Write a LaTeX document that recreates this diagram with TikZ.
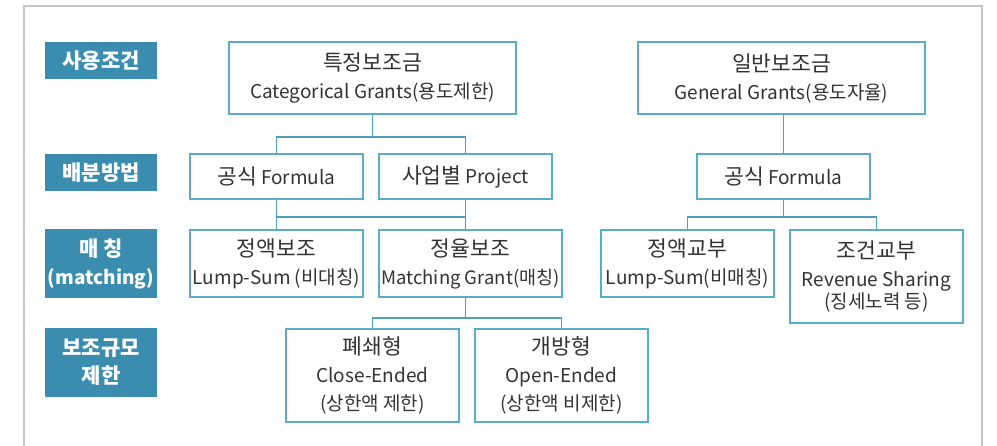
\documentclass[tikz,border=0pt]{standalone}
\usepackage{fontspec}
\setmainfont{Noto Sans CJK KR}
\definecolor{labfill}{HTML}{3B8DAF}
\definecolor{boxline}{HTML}{5AADC9}
\definecolor{connline}{HTML}{4E9FBE}
\definecolor{framegray}{HTML}{C6C6C8}
\definecolor{txt}{HTML}{333333}
\newcommand\bigk[1]{{\fontsize{21.5}{28}\selectfont #1}}
\tikzset{
  lab/.style={fill=labfill, text=white, font=\bfseries\fontsize{21}{28}\selectfont, align=center, inner sep=0pt, minimum width=112pt},
  bx/.style={draw=boxline, line width=1.6pt, fill=white, text=txt, font=\fontsize{19}{28}\selectfont, align=center, inner sep=0pt},
  conn/.style={draw=connline, line width=1.3pt},
  frame/.style={draw=framegray, line width=2.2pt}
}
\begin{document}
\begin{tikzpicture}[x=1pt,y=-1pt]
\useasboundingbox (0,0) rectangle (997,446);
\fill[white] (0,0) rectangle (997,446);
\draw[frame] (24,470) -- (24,6) -- (982,6) -- (982,470);

% row labels
\node[lab, minimum height=37pt] (r1) at (101,60.5) {사용조건};
\node[lab, minimum height=37pt] (r2) at (101,172.5) {배분방법};
\node[lab, minimum height=69pt] (r3) at (101,263.5) {매 칭\\{\fontsize{19}{28}\selectfont (matching)}};
\node[lab, minimum height=69pt] (r4) at (101,362.5) {보조규모\\제한};

% boxes
\node[bx, minimum width=287pt, minimum height=72pt] (tj) at (372.5,78) {\bigk{특정보조금}\\Categorical Grants(용도제한)};
\node[bx, minimum width=287pt, minimum height=72pt] (gg) at (781.5,78) {\bigk{일반보조금}\\General Grants(용도자율)};
\node[bx, minimum width=173pt, minimum height=45pt] (f1) at (276.5,176.5) {\bigk{공식} Formula};
\node[bx, minimum width=173pt, minimum height=45pt] (pj) at (465.5,176.5) {\bigk{사업별} Project};
\node[bx, minimum width=173pt, minimum height=45pt] (f2) at (783.5,176.5) {\bigk{공식} Formula};
\node[bx, minimum width=173pt, minimum height=67pt] (l1) at (276.5,263.5) {\bigk{정액보조}\\Lump-Sum (비대칭)};
\node[bx, minimum width=183pt, minimum height=67pt] (m1) at (470.5,263.5) {\bigk{정율보조}\\{\fontsize{18.5}{28}\selectfont Matching Grant(매칭)}};
\node[bx, minimum width=173pt, minimum height=67pt] (l2) at (687.5,263.5) {\bigk{정액교부}\\Lump-Sum(비매칭)};
\node[bx, minimum width=173pt, minimum height=93pt] (rs) at (876.5,276.5) {\bigk{조건교부}\\Revenue Sharing\\[-6pt](징세노력 등)};
\node[bx, minimum width=173pt, minimum height=93pt] (cl) at (372.5,375.5) {\bigk{폐쇄형}\\Close-Ended\\(상한액 제한)};
\node[bx, minimum width=173pt, minimum height=93pt] (op) at (561.5,375.5) {\bigk{개방형}\\Open-Ended\\(상한액 비제한)};

% connectors
\draw[conn] (tj.south) -- (tj.south |- 0,137);
\draw[conn] (f1.north) -- (f1.north |- 0,137) -- (pj.north |- 0,137) -- (pj.north);
\draw[conn] (f1.south) -- (f1.south |- l1.north);
\draw[conn] (pj.south) -- (pj.south |- m1.north);
\draw[conn] (f1.south |- 0,217) -- (pj.south |- 0,217);
\draw[conn] (f2.north |- gg.south) -- (f2.north);
\draw[conn] (f2.south) -- (f2.south |- 0,217);
\draw[conn] (l2.north) -- (l2.north |- 0,217) -- (rs.north |- 0,217) -- (rs.north);
\draw[conn] (pj.south |- m1.south) -- (pj.south |- 0,318);
\draw[conn] (cl.north) -- (cl.north |- 0,318) -- (op.north |- 0,318) -- (op.north);
\end{tikzpicture}
\end{document}
